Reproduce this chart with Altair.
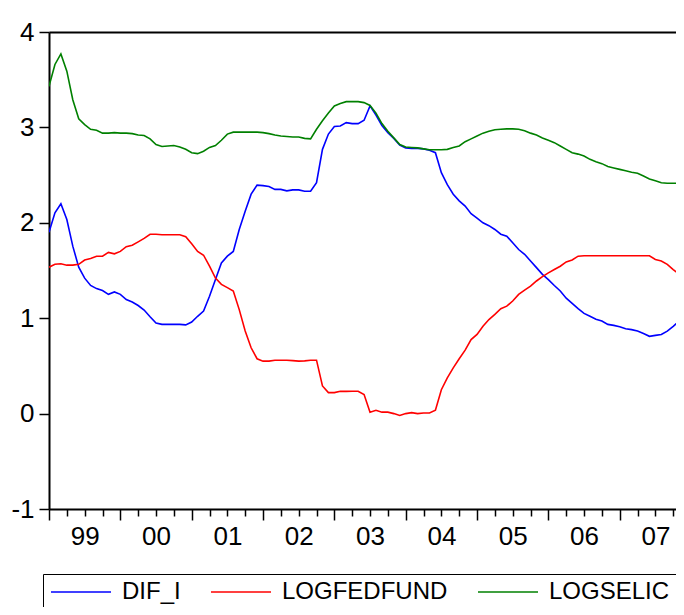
import altair as alt
import pandas as pd

series_names = ["DIF_I", "LOGFEDFUND", "LOGSELIC"]
series_colors = ["#0000FF", "#FF0000", "#008000"]
start_year = 1999
year_ticks = list(range(1999, 2008))
y_ticks = [-1, 0, 1, 2, 3, 4]

dif_i = [1.90, 2.105, 2.20, 2.035, 1.755, 1.535, 1.42, 1.343, 1.31, 1.29,
         1.25, 1.275, 1.25, 1.196, 1.17, 1.133, 1.085, 1.015, 0.95, 0.935,
         0.935, 0.935, 0.935, 0.93, 0.96, 1.02, 1.075, 1.23, 1.405, 1.58,
         1.65, 1.70, 1.93, 2.12, 2.30, 2.395, 2.39, 2.38, 2.35, 2.35,
         2.335, 2.345, 2.345, 2.33, 2.33, 2.42, 2.77, 2.93, 3.01, 3.015,
         3.05, 3.04, 3.04, 3.075, 3.225, 3.13, 3.02, 2.945, 2.885, 2.815,
         2.785, 2.78, 2.78, 2.775, 2.76, 2.735, 2.525, 2.40, 2.30, 2.23,
         2.175, 2.095, 2.05, 2.00, 1.97, 1.93, 1.88, 1.86, 1.79, 1.72,
         1.67, 1.60, 1.53, 1.46, 1.405, 1.343, 1.285, 1.21, 1.155, 1.10,
         1.05, 1.02, 0.99, 0.97, 0.935, 0.925, 0.91, 0.89, 0.88, 0.865,
         0.84, 0.81, 0.82, 0.83, 0.865, 0.915, 0.97, 1.00]

logfedfund = [1.535, 1.565, 1.57, 1.556, 1.556, 1.565, 1.61, 1.626, 1.65, 1.65,
              1.69, 1.675, 1.70, 1.75, 1.765, 1.80, 1.836, 1.88, 1.88, 1.875,
              1.875, 1.875, 1.875, 1.855, 1.78, 1.70, 1.66, 1.545, 1.42, 1.355,
              1.32, 1.285, 1.09, 0.865, 0.69, 0.575, 0.55, 0.55, 0.56, 0.56,
              0.56, 0.555, 0.55, 0.553, 0.56, 0.56, 0.29, 0.22, 0.22, 0.235,
              0.233, 0.235, 0.235, 0.20, 0.015, 0.035, 0.015, 0.015, 0.0, -0.02,
              0.0, 0.01, 0.0, 0.007, 0.007, 0.035, 0.25, 0.375, 0.48, 0.575,
              0.665, 0.776, 0.83, 0.915, 0.986, 1.04, 1.10, 1.126, 1.18, 1.25,
              1.295, 1.336, 1.39, 1.435, 1.475, 1.51, 1.545, 1.59, 1.61, 1.65,
              1.655, 1.655, 1.655, 1.655, 1.655, 1.655, 1.655, 1.655, 1.655, 1.655,
              1.655, 1.655, 1.615, 1.60, 1.565, 1.51, 1.46, 1.42]

logselic = [3.43, 3.66, 3.77, 3.59, 3.29, 3.09, 3.03, 2.98, 2.97, 2.94,
            2.94, 2.945, 2.94, 2.94, 2.935, 2.92, 2.915, 2.88, 2.82, 2.80,
            2.805, 2.81, 2.795, 2.77, 2.735, 2.725, 2.75, 2.79, 2.81, 2.865,
            2.93, 2.95, 2.95, 2.95, 2.95, 2.95, 2.945, 2.935, 2.92, 2.91,
            2.905, 2.90, 2.90, 2.885, 2.88, 2.98, 3.07, 3.15, 3.225, 3.25,
            3.27, 3.27, 3.27, 3.26, 3.23, 3.15, 3.04, 2.96, 2.89, 2.82,
            2.795, 2.79, 2.785, 2.775, 2.765, 2.765, 2.765, 2.77, 2.79, 2.805,
            2.85, 2.88, 2.91, 2.94, 2.96, 2.975, 2.98, 2.985, 2.985, 2.98,
            2.965, 2.94, 2.92, 2.89, 2.865, 2.84, 2.805, 2.77, 2.735, 2.72,
            2.70, 2.665, 2.64, 2.62, 2.59, 2.575, 2.56, 2.545, 2.53, 2.52,
            2.49, 2.46, 2.44, 2.42, 2.415, 2.415, 2.415, 2.415]

rows = []
for name, vals in zip(series_names, [dif_i, logfedfund, logselic]):
    for i, v in enumerate(vals):
        rows.append({"t": start_year + i / 12.0, "value": v, "series": name})
df = pd.DataFrame(rows)

quarter_ticks = [y + q / 4.0 for y in year_ticks for q in (1, 2, 3)]
x_scale = alt.Scale(domain=[1999, 2007.789], nice=False, zero=False)
FONT = "Liberation Sans"

lines = alt.Chart(df).mark_line(strokeWidth=1.6, clip=True).encode(
    x=alt.X("t:Q", scale=x_scale,
            axis=alt.Axis(values=year_ticks, format="d",
                          labelExpr="substring(datum.label, 2)",
                          labelOffset=35.7, labelFlush=False, labelOverlap=False,
                          labelBound=False, tickSize=11, tickWidth=1.5,
                          tickColor="black", domainColor="black", domainWidth=2,
                          labelFont=FONT, labelFontSize=26, labelColor="black",
                          labelPadding=3, grid=False, title=None, orient="bottom")),
    y=alt.Y("value:Q", scale=alt.Scale(domain=[-1, 4], nice=False, zero=False),
            axis=alt.Axis(values=y_ticks,
                          labelExpr="datum.value < 0 ? '-' + abs(datum.value) : datum.label",
                          tickSize=10, tickWidth=1.5, tickColor="black",
                          domainColor="black", domainWidth=2,
                          labelFont=FONT, labelFontSize=26, labelColor="black",
                          labelPadding=5, grid=False, title=None)),
    color=alt.Color("series:N",
                    scale=alt.Scale(domain=series_names, range=series_colors),
                    legend=alt.Legend(orient="none", legendX=-6, legendY=542,
                                      direction="horizontal", title=None,
                                      strokeColor="black", padding=6,
                                      symbolType="M-1,0H5", symbolSize=400,
                                      symbolStrokeWidth=1.6, labelOffset=49,
                                      labelFont=FONT, labelFontSize=24,
                                      labelLimit=400,
                                      labelColor="black", columnPadding=26)),
)

minor = alt.Chart(pd.DataFrame({"t": quarter_ticks})).mark_point(opacity=0).encode(
    x=alt.X("t:Q", scale=x_scale,
            axis=alt.Axis(values=quarter_ticks, labels=False, tickSize=7,
                          tickWidth=1.5, tickColor="black", domain=False,
                          grid=False, title=None, orient="bottom")),
)

top = alt.Chart(pd.DataFrame({"t": [1999]})).mark_point(opacity=0).encode(
    x=alt.X("t:Q", scale=x_scale,
            axis=alt.Axis(values=[], labels=False, ticks=False, domain=True,
                          domainColor="black", domainWidth=2,
                          grid=False, title=None, orient="top")),
)

chart = alt.layer(lines, minor, top).resolve_axis(x="independent").properties(
    width=627, height=477,
    padding={"left": 41, "top": 24, "right": 0, "bottom": 98},
    autosize=alt.AutoSizeParams(type="none"),
).configure_view(stroke=None)

chart.save("out.html", embed_options={"renderer": "svg", "actions": False})
